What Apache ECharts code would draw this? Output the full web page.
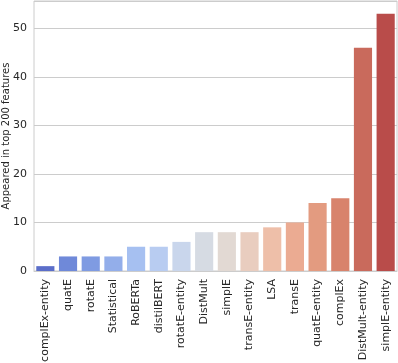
<!DOCTYPE html>
<html>
<head>
<meta charset="utf-8">
<script src="https://cdn.jsdelivr.net/npm/echarts@6/dist/echarts.min.js"></script>
<style>
  html, body { margin: 0; padding: 0; background: #fff; }
  #chart { width: 398px; height: 363px; }
</style>
</head>
<body>
<div id="chart"></div>
<script>
const categories = [
  'complEx-entity', 'quatE', 'rotatE', 'Statistical', 'RoBERTa', 'distilBERT',
  'rotatE-entity', 'DistMult', 'simplE', 'transE-entity', 'LSA', 'transE',
  'quatE-entity', 'complEx', 'DistMult-entity', 'simplE-entity'
]
const counts = [1, 3, 3, 3, 5, 5, 6, 8, 8, 8, 9, 10, 14, 15, 46, 53]
// coolwarm palette, one colour per bar
const barColors = [
  '#5b6ec9', '#6f89d9', '#7f9be2', '#93aeea', '#a6c0f1', '#b8ccf1',
  '#c9d6ec', '#d6dbe3', '#e2d9d3', '#e9cdbf', '#eebfa9', '#ebab92',
  '#e39b80', '#d8836c', '#c96a5c', '#b94c4a'
]
const yTitle = 'Appeared in top 200 features'

const chart = echarts.init(document.getElementById('chart'))
const textColor = '#262626'
const font = 'DejaVu Sans'

chart.setOption({
  animation: false,
  grid: {
    left: 34,
    right: 1,
    top: 1,
    bottom: 92,
    outerBoundsMode: 'none',
    show: true,
    borderColor: '#cccccc',
    borderWidth: 1
  },
  // y axis title drawn by hand, the axis name kept ending up off screen
  graphic: [{
    type: 'text',
    x: 6,
    y: 136,
    rotation: Math.PI / 2,
    style: {
      text: yTitle,
      fill: textColor,
      font: '10px "DejaVu Sans"',
      textAlign: 'center',
      textVerticalAlign: 'middle'
    }
  }],
  xAxis: {
    type: 'category',
    data: categories,
    axisLine: { lineStyle: { color: '#cccccc' } },
    axisTick: { show: false },
    axisLabel: {
      rotate: 90,
      interval: 0,
      margin: 8,
      color: textColor,
      fontFamily: font,
      fontSize: 11
    }
  },
  yAxis: {
    type: 'value',
    min: 0,
    max: 55.65,
    interval: 10,
    axisLine: { show: false },
    axisTick: { show: false },
    axisLabel: {
      showMaxLabel: false,
      margin: 7,
      color: textColor,
      fontFamily: font,
      fontSize: 11
    },
    splitLine: { lineStyle: { color: '#cccccc', width: 1 } }
  },
  series: [{
    type: 'bar',
    data: counts.map((v, i) => ({ value: v, itemStyle: { color: barColors[i] } })),
    barCategoryGap: '20%'
  }]
})
</script>
</body>
</html>
